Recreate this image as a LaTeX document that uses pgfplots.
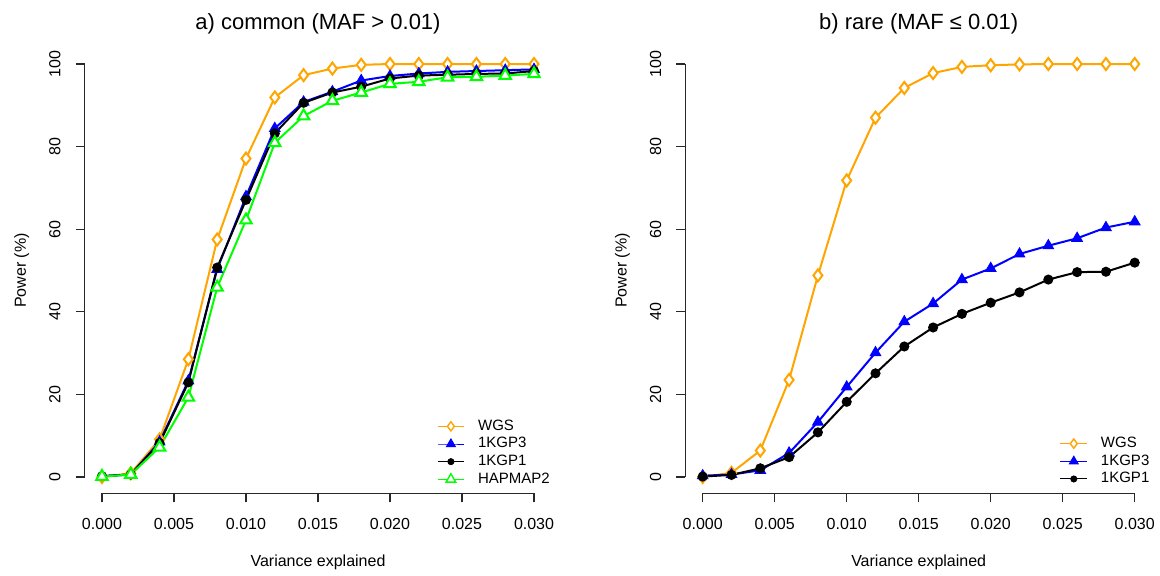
\documentclass[border=0pt]{standalone}
\usepackage{fontspec}
\setmainfont{Liberation Sans}
\usepackage{graphicx}
\usepackage{pgfplots}
\pgfplotsset{compat=1.18}
\usepackage{pgfplotstable}

\definecolor{rorange}{RGB}{255,165,0}
\definecolor{rgreen}{RGB}{0,255,0}
\definecolor{rblue}{RGB}{0,0,255}
\definecolor{axgray}{RGB}{40,40,40}

\pgfplotstableread{
x      wgs   kgpthree kgpone hap
0.000  0.0   0.2   0.2   0.1
0.002  0.9   0.6   0.6   0.6
0.004  9.1   8.5   8.2   7.2
0.006  28.5  23.3  22.9  19.3
0.008  57.5  50.3  50.7  45.9
0.010  77.1  67.9  67.1  62.2
0.012  91.9  84.4  83.2  80.9
0.014  97.3  90.8  90.6  87.4
0.016  98.9  93.3  93.1  91.1
0.018  99.8  96.0  94.5  93.1
0.020  100   97.1  96.5  95.2
0.022  100   97.7  97.2  95.7
0.024  100   98.1  97.4  96.8
0.026  100   98.3  97.6  96.9
0.028  100   98.5  97.7  97.2
0.030  100   98.7  98.3  97.6
}\common

\pgfplotstableread{
x      wgs   kgpthree kgpone
0.000  0.0   0.3   0.1
0.002  1.0   0.6   0.5
0.004  6.4   1.6   2.1
0.006  23.5  5.8   4.8
0.008  48.8  13.3  10.8
0.010  71.8  21.8  18.2
0.012  87.0  30.1  25.1
0.014  94.2  37.6  31.6
0.016  97.8  42.0  36.2
0.018  99.3  47.8  39.5
0.020  99.7  50.5  42.2
0.022  99.9  54.0  44.7
0.024  100   56.0  47.8
0.026  100   57.8  49.6
0.028  100   60.4  49.7
0.030  100   61.8  51.9
}\rare

\pgfplotsset{
  rstyle/.style={
    width=233.3pt, height=223pt, scale only axis,
    xmin=-0.0012, xmax=0.0312, ymin=-4, ymax=104,
    axis line style={draw=none},
    xtick pos=bottom, ytick pos=left,
    xtick={0,0.005,0.01,0.015,0.02,0.025,0.03},
    ytick={0,20,40,60,80,100},
    tick align=outside, major tick length=4.5pt,
    every tick/.style={line width=0.6pt, draw=axgray},
    minor tick num=0,
    scaled x ticks=false,
    /pgf/number format/assume math mode=true,
    x tick label style={/pgf/number format/fixed, /pgf/number format/fixed zerofill, /pgf/number format/precision=3},
    tick label style={font=\fontsize{8}{9.6}\selectfont},
    x tick label style={anchor=base, inner sep=0pt, yshift=-13.4pt},
    yticklabel={\rotatebox{90}{\pgfmathprintnumber{\tick}}},
    y tick label style={anchor=east, inner sep=0pt, xshift=-7.4pt},
    title style={at={(axis description cs:0.5,1.014)}, anchor=base, font=\fontsize{11}{13}\selectfont},
    xlabel style={at={(axis description cs:0.5,-0.1641)}, anchor=base, font=\fontsize{8}{9.6}\selectfont},
    ylabel style={at={(axis description cs:-0.1262,0.5)}, rotate=0, anchor=base, font=\fontsize{8}{9.6}\selectfont},
    xlabel={Variance explained},
    ylabel={Power (\%)},
    legend cell align=left,
    legend image code/.code={\draw[mark repeat=2,mark phase=2,#1] plot coordinates {(0pt,0pt) (6.65pt,0pt) (13.3pt,0pt)};},
    legend style={draw=none, fill=none, inner sep=0pt, row sep=2.1pt,
      font=\fontsize{7.5}{9}\selectfont,
      nodes={inner sep=0pt},
      /tikz/every odd column/.append style={column sep=6.7pt}},
    clip=false,
  },
  lwgs/.style={color=rorange, line width=1pt, mark=diamond*, mark size=3pt, mark options={fill=white, line width=1pt, solid}},
  lk3/.style={color=rblue, line width=1pt, mark=triangle*, mark size=3pt, mark options={line width=0.5pt, solid}},
  lk1/.style={color=black, line width=1pt, mark=*, mark size=2pt, mark options={solid}},
  lhap/.style={color=rgreen, line width=1pt, mark=triangle*, mark size=3.3pt, mark options={fill=white, line width=1pt, solid}},
  gwgs/.style={color=rorange, line width=0.5pt, mark=diamond*, mark size=2.3pt, mark options={fill=white, line width=0.7pt}},
  gk3/.style={color=rblue, line width=0.5pt, mark=triangle*, mark size=2.5pt},
  gk1/.style={color=black, line width=0.5pt, mark=*, mark size=1.5pt},
  ghap/.style={color=rgreen, line width=0.5pt, mark=triangle*, mark size=2.8pt, mark options={fill=white, line width=0.7pt}},
}

\begin{document}
\begin{tikzpicture}
\path[use as bounding box] (0,0) rectangle (580pt,288pt);
\begin{axis}[rstyle, at={(42.35pt,41.25pt)}, anchor=south west,
  title={a) common (MAF > 0.01)},
  legend style={at={(axis description cs:0.7544,0.1666)}, anchor=north west}]
\addplot[lwgs, forget plot] table[x=x, y=wgs] {\common};
\addplot[lk3, forget plot] table[x=x, y=kgpthree] {\common};
\addplot[lk1, forget plot] table[x=x, y=kgpone] {\common};
\addplot[lhap, forget plot] table[x=x, y=hap] {\common};
\draw[line width=0.6pt, draw=axgray] (axis cs:0,-4) -- (axis cs:0.03,-4);
\draw[line width=0.6pt, draw=axgray] (axis cs:-0.0012,0) -- (axis cs:-0.0012,100);
\addlegendimage{gwgs}\addlegendentry{WGS}
\addlegendimage{gk3}\addlegendentry{1KGP3}
\addlegendimage{gk1}\addlegendentry{1KGP1}
\addlegendimage{ghap}\addlegendentry{HAPMAP2}
\end{axis}
\begin{axis}[rstyle, at={(342.7pt,41.25pt)}, anchor=south west,
  title={b) rare (MAF ≤ 0.01)},
  legend style={at={(axis description cs:0.8019,0.1278)}, anchor=north west}]
\addplot[lwgs, forget plot] table[x=x, y=wgs] {\rare};
\addplot[lk3, forget plot] table[x=x, y=kgpthree] {\rare};
\addplot[lk1, forget plot] table[x=x, y=kgpone] {\rare};
\draw[line width=0.6pt, draw=axgray] (axis cs:0,-4) -- (axis cs:0.03,-4);
\draw[line width=0.6pt, draw=axgray] (axis cs:-0.0012,0) -- (axis cs:-0.0012,100);
\addlegendimage{gwgs}\addlegendentry{WGS}
\addlegendimage{gk3}\addlegendentry{1KGP3}
\addlegendimage{gk1}\addlegendentry{1KGP1}
\end{axis}
\end{tikzpicture}
\end{document}
